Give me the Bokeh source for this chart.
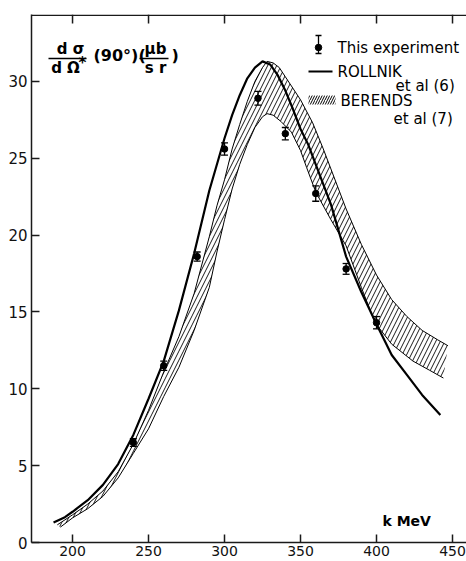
from bokeh.plotting import figure
from bokeh.models import Range1d, FixedTicker, ColumnDataSource, Whisker, TeeHead
from bokeh.core.properties import value
from bokeh.embed import file_html
from bokeh.resources import INLINE

# ---- data ----
exp_k = [240, 260, 282, 300, 322, 340, 360, 380, 400]
exp_y = [6.5, 11.5, 18.6, 25.6, 28.9, 26.6, 22.7, 17.8, 14.3]
exp_err = [0.25, 0.3, 0.3, 0.4, 0.45, 0.4, 0.5, 0.35, 0.4]

rollnik_k = [187.5, 195, 200, 210, 220, 230, 240, 250, 260, 270, 280, 290, 300, 305, 310,
             315, 320, 325, 330, 335, 340, 345, 350, 355, 360, 365, 370, 380, 390, 400,
             410, 420, 430, 442]
rollnik_y = [1.3, 1.65, 2.0, 2.75, 3.75, 5.1, 7.0, 9.35, 11.8, 15.1, 18.8, 22.9, 26.3, 27.8, 29.1,
             30.2, 30.9, 31.3, 31.1, 30.4, 29.4, 28.2, 26.9, 25.9, 24.6, 23.3, 22.0, 18.6, 16.3, 14.2,
             12.2, 10.9, 9.6, 8.3]

berends_up_k = [190, 200, 210, 220, 230, 240, 250, 260, 270, 280, 290, 295, 300, 305, 310, 315,
                320, 325, 328, 332, 336, 340, 350, 358, 365, 370, 380, 390, 400, 410, 420,
                430, 440, 447]
berends_up_y = [1.15, 1.8, 2.5, 3.35, 4.6, 6.4, 8.6, 11.1, 13.4, 16.2, 19.9, 21.9, 23.6, 25.6, 27.2, 28.7,
                30.0, 30.9, 31.3, 31.2, 30.9, 30.3, 28.8, 27.3, 25.6, 24.3, 21.7, 19.4, 17.4, 15.8, 14.7,
                13.8, 13.2, 12.8]

berends_lo_k = [192, 200, 210, 220, 230, 240, 250, 260, 270, 280, 290, 295, 300, 305, 310, 315,
                320, 325, 328, 332, 337, 344, 350, 354, 360, 370, 380, 390, 399, 410, 424,
                435, 444]
berends_lo_y = [1.0, 1.6, 2.2, 3.0, 4.2, 5.8, 7.4, 9.5, 11.4, 13.8, 16.6, 18.9, 21.0, 23.0, 24.6, 25.9,
                27.0, 27.7, 27.9, 27.8, 27.4, 26.7, 25.5, 24.4, 22.8, 21.0, 19.3, 16.6, 14.3, 12.9, 11.8,
                11.2, 10.7]

x_ticks = [200, 250, 300, 350, 400, 450]
y_ticks = [0, 5, 10, 15, 20, 25, 30]

legend_labels = ["This experiment", "ROLLNIK", "BERENDS"]
legend_sub = ["et al (6)", "et al (7)"]
x_unit_label = "k MeV"

# ---- figure (Bokeh's page template has no body margin) ----
W, H = 466, 561
BL, BR, BT, BB = 31, 0, 14, 19
FW, FH = W - BL - BR, H - BT - BB
p = figure(width=W, height=H,
           x_range=Range1d(173.0, 459.2), y_range=Range1d(0, 34.35),
           output_backend="svg", toolbar_location=None,
           min_border_left=BL, min_border_right=BR, min_border_top=BT, min_border_bottom=BB)
p.outline_line_color = None
p.grid.visible = False
p.background_fill_color = "white"
p.border_fill_color = "white"

for ax in [p.xaxis[0], p.yaxis[0]]:
    ax.axis_line_width = 1.5
    ax.axis_line_color = "#1a1a1a"
    ax.major_tick_in = 8
    ax.major_tick_out = 0
    ax.major_tick_line_width = 1.5
    ax.major_tick_line_color = "#1a1a1a"
    ax.minor_tick_line_color = None
    ax.major_label_text_font = "DejaVu Sans"
    ax.major_label_text_color = "#111111"

p.xaxis[0].ticker = FixedTicker(ticks=x_ticks)
p.yaxis[0].ticker = FixedTicker(ticks=y_ticks)
p.xaxis[0].major_label_text_font_size = "14px"
p.xaxis[0].major_label_standoff = 3
p.yaxis[0].major_label_text_font_size = "15px"
p.yaxis[0].major_label_standoff = 4

# extra ranges in frame pixels (x from frame left, y from frame top) for annotations
p.extra_x_ranges = {"px": Range1d(0, FW)}
p.extra_y_ranges = {"py": Range1d(FH, 0)}
kw = dict(x_range_name="px", y_range_name="py")

# top frame line with inward ticks at the same x ticks
p.segment(x0=[0], y0=[0.7], x1=[FW], y1=[0.7], line_width=1.5, color="#1a1a1a", **kw)
p.segment(x0=x_ticks, x1=x_ticks, y0=[0] * len(x_ticks), y1=[9] * len(x_ticks),
          line_width=1.5, color="#1a1a1a", y_range_name="py")

# ---- curves ----
band_x = berends_up_k + berends_lo_k[::-1]
band_y = berends_up_y + berends_lo_y[::-1]
p.patch(band_x, band_y, fill_color=None, line_color=None,
        hatch_pattern="/", hatch_color="black", hatch_scale=9, hatch_weight=0.9)
p.line(berends_up_k, berends_up_y, line_width=1.0, color="black")
p.line(berends_lo_k, berends_lo_y, line_width=1.0, color="black")
p.line(rollnik_k, rollnik_y, line_width=2.2, color="black")

# ---- experiment ----
src = ColumnDataSource(dict(k=exp_k, y=exp_y,
                            up=[a + b for a, b in zip(exp_y, exp_err)],
                            lo=[a - b for a, b in zip(exp_y, exp_err)]))
p.add_layout(Whisker(source=src, base="k", upper="up", lower="lo", line_width=1.3,
                     upper_head=TeeHead(size=7, line_width=1.3),
                     lower_head=TeeHead(size=7, line_width=1.3)))
p.scatter("k", "y", source=src, size=6.5, color="black")

# ---- legend (frame pixel coordinates) ----
p.segment(x0=[287], y0=[21], x1=[287], y1=[39], line_width=1.3, color="black", **kw)
p.segment(x0=[284, 284], y0=[21, 39], x1=[290, 290], y1=[21, 39], line_width=1.3, color="black", **kw)
p.scatter(x=[287], y=[33], size=6.5, color="black", **kw)
p.segment(x0=[277], y0=[57], x1=[301], y1=[57], line_width=2.2, color="black", **kw)
p.quad(left=[277], right=[304], top=[81], bottom=[90], fill_color=None, line_color=None,
       hatch_pattern="/", hatch_color="black", hatch_scale=5, hatch_weight=1.0, **kw)

txt = dict(text_font=value("DejaVu Sans"), text_font_size=value("15px"),
           text_baseline="middle", text_align="left", text_color="black", **kw)
p.text(x=[306, 306, 309], y=[33, 57, 86], text=legend_labels, **txt)
p.text(x=[364, 362], y=[71, 104], text=legend_sub, **txt)
p.text(x=[351], y=[FH - 22], text=[x_unit_label], text_font_style="bold",
       **{**txt, "text_font_size": value("14px")})

# y-axis title as a stacked fraction
tb = dict(text_font=value("DejaVu Sans"), text_font_size=value("15px"), text_font_style="bold",
          text_baseline="middle", text_color="black", **kw)
p.text(x=[39, 34], y=[34, 53], text=["d σ", "d Ω"], text_align="center", **tb)
p.text(x=[51], y=[48], text=["*"], text_align="center", **tb)
p.text(x=[124, 124], y=[34, 53], text=["μb", "s r"], text_align="center", **tb)
p.text(x=[62], y=[41], text=["(90°)("], text_align="left",
       **{**tb, "text_font_size": value("16px")})
p.text(x=[140], y=[41], text=[")"], text_align="left",
       **{**tb, "text_font_size": value("16px")})
p.segment(x0=[17, 108], y0=[44, 44], x1=[55, 137], y1=[44, 44], line_width=1.6, color="black", **kw)

open("out.html", "w").write(file_html(p, INLINE))
